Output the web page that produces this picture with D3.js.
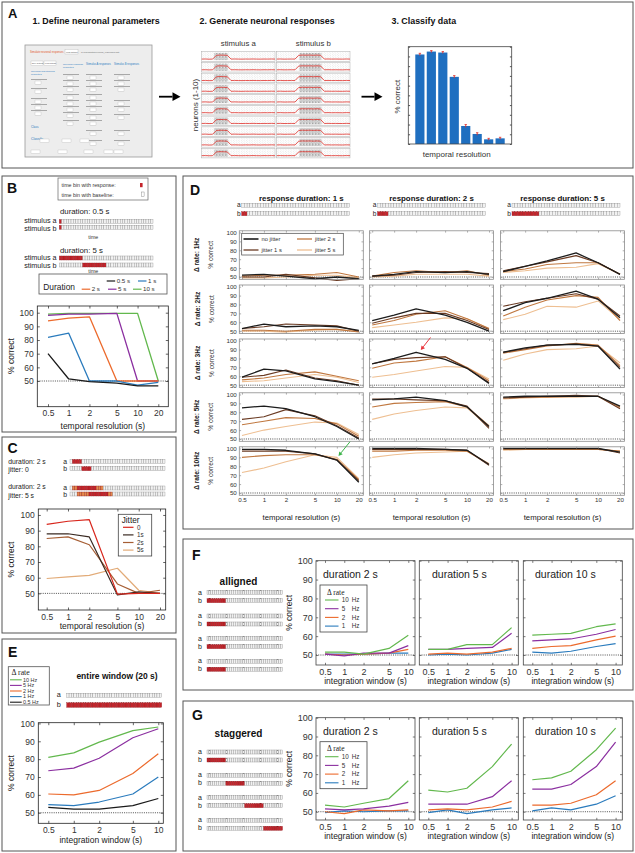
<!DOCTYPE html>
<html>
<head>
  <meta charset="utf-8">
  <title>Neuronal classification figure</title>
  <script src="https://cdn.jsdelivr.net/npm/d3@7"></script>
  <style>
    body { margin: 0; background: #fff; }
  </style>
</head>
<body>
<script>
// ---------- data ----------
const tempRes = [0.5, 1, 2, 5, 10, 20];
const intWin = [0.5, 1, 2, 5, 10];
const pctTicks = [50, 60, 70, 80, 90, 100];

// A: example classifier output
const barA = [92, 95, 94, 69, 18.5, 10.3, 4.8, 5.8];
const barErrA = [1.2, 1, 1, 1.3, 1.5, 1.3, 1, 1.1];
// A: firing-rate profile of the raster rows (0..1)
const rateA = [0.1, 0.12, 0.08, 0.1, 0.85, 0.9, 0.88, 0.85, 0.1, 0.12, 0.1, 0.09, 0.11, 0.1, 0.12, 0.1, 0.09, 0.11, 0.1, 0.12, 0.1];
const rateB = [0.1, 0.12, 0.09, 0.1, 0.11, 0.1, 0.85, 0.9, 0.88, 0.9, 0.86, 0.9, 0.85, 0.1, 0.12, 0.1, 0.11, 0.1, 0.09, 0.12, 0.1];

// B: duration
const durLabels = ['0.5 s', '1 s', '2 s', '5 s', '10 s'];
const durB05 = [70, 51.5, 49.5, 48.5, 46.5, 46.5];
const durB1 = [82, 85, 50, 50, 47, 49];
const durB2 = [94, 96, 97, 50, 50, 50];
const durB5 = [98, 99, 99, 99.5, 50, 50];
const durB10 = [99, 99.5, 99.5, 99.5, 99.5, 50];

// C: jitter
const jitLabelsC = ['0', '1s', '2s', '5s'];
const jitC0 = [94, 96, 97, 49.5, 50, 50];
const jitC1 = [88, 88, 86, 49, 51, 50];
const jitC2 = [85, 86, 81, 56, 50, 52];
const jitC5 = [59.5, 60.5, 61.5, 66, 52, 50];

// E: delta rate, entire window
const rateLabelsE = ['10 Hz', '5 Hz', '2 Hz', '1 Hz', '0.5 Hz'];
const rateE10 = [81, 83.5, 89.5, 96, 98];
const rateE5 = [73.5, 75, 80.5, 92, 97];
const rateE2 = [60.5, 60, 62.5, 72, 83];
const rateE1 = [54.5, 54, 56, 60.5, 70];
const rateE05 = [53, 52, 52, 54, 58];

// D: rows = delta rate, cols = response duration, each [no jitter, 1 s, 2 s, 5 s]
const dRowLabels = ['Δ rate: 1Hz', 'Δ rate: 2Hz', 'Δ rate: 3Hz', 'Δ rate: 5Hz', 'Δ rate: 10Hz'];
const dColLabels = ['response duration: 1 s', 'response duration: 2 s', 'response duration: 5 s'];
const dJitLabels = ['no jitter', 'jitter 1 s', 'jitter 2 s', 'jitter 5 s'];
const d1Hz = [
  [[52, 53, 51, 48, 50, 48], [50, 50, 53, 49, 46, 48], [51, 52, 52, 53, 55, 50], [49, 49, 50, 52, 52, 49]],
  [[51, 53, 56, 55, 56, 53], [51, 52, 55, 56, 55, 54], [51, 55, 57, 55, 57, 52], [50, 51, 53, 53, 53, 51]],
  [[56, 62, 68, 77, 66, 53], [57, 62, 67, 74, 66, 53], [56, 59, 64, 66, 66, 53], [55, 57, 60, 61, 65, 53]]
];
const d2Hz = [
  [[53, 58, 55, 56, 55, 51], [53, 55, 58, 57, 56, 50], [51, 51, 50, 52, 52, 49], [50, 50, 49, 51, 52, 50]],
  [[62, 68, 75, 68, 60, 50], [59, 65, 70, 70, 62, 52], [57, 62, 69, 73, 64, 53], [54, 57, 60, 65, 64, 53]],
  [[73, 82, 87, 95, 86, 65], [78, 83, 87, 92, 86, 67], [67, 77, 85, 90, 88, 62], [63, 69, 78, 77, 84, 63]]
];
const d3Hz = [
  [[59, 68, 66, 57, 54, 50], [59, 61, 67, 58, 55, 50], [56, 58, 62, 65, 60, 55], [54, 55, 58, 62, 59, 53]],
  [[74, 80, 87, 79, 69, 52], [74, 79, 81, 82, 69, 53], [69, 75, 77, 82, 70, 55], [59, 62, 66, 71, 70, 57]],
  [[87, 92, 95, 96, 94, 68], [87, 91, 95, 96, 94, 70], [86, 90, 94, 97, 95, 72], [78, 85, 90, 91, 94, 75]]
];
const d5Hz = [
  [[85, 87, 84, 75, 64, 50], [72, 75, 83, 76, 65, 51], [66, 70, 74, 73, 67, 53], [54, 60, 64, 69, 68, 55]],
  [[94, 95, 97, 93, 86, 64], [95, 95, 94, 93, 87, 62], [86, 90, 91, 92, 86, 65], [72, 78, 82, 86, 85, 63]],
  [[97, 98, 98, 98, 98, 87], [96, 97, 98, 99, 98, 84], [96, 97, 97, 98, 98, 86], [95, 96, 97, 97, 98, 85]]
];
const d10Hz = [
  [[99, 99, 98, 94, 87, 62], [97, 97, 97, 94, 87, 64], [90, 92, 93, 93, 88, 65], [73, 78, 85, 93, 90, 66]],
  [[100, 100, 100, 99, 98, 82], [99, 99, 99, 99, 98, 81], [97, 97, 98, 98, 97, 83], [90, 93, 95, 96, 97, 82]],
  [[100, 100, 100, 100, 100, 96], [100, 100, 100, 100, 100, 95], [99, 99, 99, 99, 99, 97], [98, 99, 99, 99, 99, 97]]
];
const dData = [d1Hz, d2Hz, d3Hz, d5Hz, d10Hz];

// F (alligned) and G (staggered): [10 Hz, 5 Hz, 2 Hz, 1 Hz]
const fgTitles = ['duration 2 s', 'duration 5 s', 'duration 10 s'];
const fgRateLabels = ['10', '5', '2', '1'];
const alligned = [
  [[51.5, 51.5, 50.5, 53.5, 60.5], [50.5, 49.5, 51, 51, 55], [50.5, 50, 50.5, 51, 53], [50.5, 50.5, 50.5, 51, 51]],
  [[53, 53, 55.5, 55.5, 64.5], [53, 53, 53.5, 54, 61.5], [50.5, 51, 50.5, 51.5, 53.5], [50, 50.5, 50, 51, 53]],
  [[60.5, 61, 61.5, 65, 66.5], [57.5, 58, 58.5, 61, 63.5], [53.5, 54.5, 55, 58, 60], [51.5, 51, 52, 54.5, 56]]
];
const staggered = [
  [[53.5, 52.5, 54.5, 57, 66.5], [51.5, 51, 51.5, 53, 55], [50, 49, 51, 50.5, 51], [49.5, 50.5, 50, 50.5, 50.5]],
  [[61.5, 60.5, 62.5, 74, 86], [54, 54, 54, 58, 66.5], [51, 51.5, 51, 52.5, 55.5], [49.5, 51, 49, 51, 52]],
  [[67, 68, 71.5, 83, 94.5], [62, 62, 64.5, 74, 87], [53.5, 53.5, 54.5, 59, 66.5], [50.5, 52, 51, 54, 58.5]]
];

// ---------- style ----------
const FONT = '"Liberation Sans", Arial, sans-serif';
const SERIF = '"Liberation Serif", "Times New Roman", serif';
const durColors = ['#1a1a1a', '#2a7bbd', '#ec6a2c', '#8b2fa0', '#62b84d'];
const jitColorsC = ['#d8261c', '#3a2a22', '#a65e34', '#e2ab78'];
const jitColorsD = ['#1c1c1c', '#6a3a22', '#c07840', '#eebf92'];
const rateColors = ['#62b84d', '#8b2fa0', '#ec6a2c', '#2a7bbd', '#1a1a1a'];
const RED = '#c4242b', ORANGE = '#e58a4c', CELL = '#f1f1f1';

const svg = d3.select('body').append('svg').attr('width', 635).attr('height', 853);
svg.append('rect').attr('width', 635).attr('height', 853).attr('fill', '#fff');

const defs = svg.append('defs');
const p1 = defs.append('pattern').attr('id', 'spk').attr('width', 2.6).attr('height', 2.2).attr('patternUnits', 'userSpaceOnUse');
p1.append('circle').attr('cx', 0.7).attr('cy', 0.6).attr('r', 0.35).attr('fill', '#bcbcbc');
p1.append('circle').attr('cx', 2).attr('cy', 1.7).attr('r', 0.35).attr('fill', '#c8c8c8');
const p2 = defs.append('pattern').attr('id', 'spkDense').attr('width', 1.5).attr('height', 1.4).attr('patternUnits', 'userSpaceOnUse');
p2.append('circle').attr('cx', 0.5).attr('cy', 0.5).attr('r', 0.4).attr('fill', '#444');
p2.append('circle').attr('cx', 1.2).attr('cy', 1.1).attr('r', 0.3).attr('fill', '#777');

// ---------- helpers ----------
function txt(x, y, s, fs, o = {}) {
  const t = svg.append('text').attr('x', x).attr('y', y).text(s)
    .attr('font-size', fs).attr('font-family', o.ff || FONT).attr('fill', o.fill || '#111');
  if (o.anchor) t.attr('text-anchor', o.anchor);
  if (o.bold) t.attr('font-weight', 'bold');
  if (o.rot) t.attr('transform', `rotate(${o.rot},${x},${y})`);
  return t;
}
function frame(x, y, w, h, col, sw) {
  svg.append('rect').attr('x', x).attr('y', y).attr('width', w).attr('height', h)
    .attr('fill', 'none').attr('stroke', col || '#555').attr('stroke-width', sw || 1);
}
function hline(x1, x2, y, col, sw) {
  svg.append('line').attr('x1', x1).attr('x2', x2).attr('y1', y).attr('y2', y)
    .attr('stroke', col).attr('stroke-width', sw || 1.2);
}
// strip of time bins; spans = [[from, to, colour], ...]
function strip(x, y, w, h, n, spans) {
  const b = d3.scaleBand().domain(d3.range(n)).range([x, x + w]);
  const fill = i => {
    const s = spans.find(s => i >= s[0] && i < s[1]);
    return s ? s[2] : CELL;
  };
  svg.append('g').selectAll('rect').data(d3.range(n)).join('rect')
    .attr('x', i => b(i)).attr('y', y).attr('width', b.bandwidth()).attr('height', h)
    .attr('fill', fill)
    .attr('stroke', i => fill(i) === CELL ? '#8a8a8a' : '#8e1b1f')
    .attr('stroke-width', 0.35);
}
function arrow(x1, y1, x2, y2, col, sw, head) {
  const a = Math.atan2(y2 - y1, x2 - x1);
  const bx = x2 - head * Math.cos(a), by = y2 - head * Math.sin(a);
  svg.append('line').attr('x1', x1).attr('y1', y1).attr('x2', bx).attr('y2', by)
    .attr('stroke', col).attr('stroke-width', sw);
  const hw = head * 0.55;
  svg.append('path').attr('fill', col)
    .attr('d', `M${x2},${y2}L${bx + hw * Math.sin(a)},${by - hw * Math.cos(a)}L${bx - hw * Math.sin(a)},${by + hw * Math.cos(a)}Z`);
}
function chart(o) {
  const g = svg.append('g').attr('transform', `translate(${o.x},${o.y})`);
  const x = d3.scaleLog().domain([o.xs[0], o.xs[o.xs.length - 1]]).range([o.pl, o.w - o.pr]);
  const y = d3.scaleLinear().domain(o.yd).range([o.h, 0]);
  g.append('line').attr('x1', 0).attr('x2', o.w).attr('y1', y(50)).attr('y2', y(50))
    .attr('stroke', '#222').attr('stroke-width', 0.8).attr('stroke-dasharray', '1,1.2');
  const line = d3.line().x((d, i) => x(o.xs[i])).y(d => y(d));
  o.series.forEach(s => g.append('path').attr('d', line(s.v)).attr('fill', 'none')
    .attr('stroke', s.c).attr('stroke-width', s.w || 1.2).attr('stroke-linejoin', 'round'));
  g.append('rect').attr('width', o.w).attr('height', o.h).attr('fill', 'none')
    .attr('stroke', o.frame).attr('stroke-width', 0.8);
  const t = o.tick || 2.5;
  [
    [d3.axisBottom(x).tickValues(o.xs), `translate(0,${o.h})`, o.xLab],
    [d3.axisTop(x).tickValues(o.xs), 'translate(0,0)', false],
    [d3.axisLeft(y).tickValues(pctTicks), 'translate(0,0)', o.yLab],
    [d3.axisRight(y).tickValues(pctTicks), `translate(${o.w},0)`, false]
  ].forEach(([ax, tr, lab]) => {
    const a = g.append('g').attr('transform', tr)
      .call(ax.tickSize(-t).tickPadding(o.pad || 3).tickFormat(lab ? (d => d) : ''));
    a.select('.domain').remove();
    a.selectAll('line').attr('stroke', o.frame).attr('stroke-width', 0.7);
    a.selectAll('text').attr('font-size', o.fs).attr('fill', '#333').attr('font-family', FONT);
  });
  return { x, y };
}

// ---------- panel A ----------
frame(2, 2, 631, 166);
txt(8, 18, 'A', 13, { bold: true });
txt(32.5, 23.5, '1. Define neuronal parameters', 8.9, { bold: true });
txt(199.5, 23.5, '2. Generate neuronal responses', 8.9, { bold: true });
txt(391.5, 23.5, '3. Classify data', 8.9, { bold: true });

// GUI screenshot mock-up
svg.append('rect').attr('x', 25).attr('y', 45).attr('width', 127).attr('height', 112)
  .attr('fill', '#ededed').attr('stroke', '#9a9a9a').attr('stroke-width', 0.8);
txt(30, 52.5, 'Simulate neuronal responses', 2.6, { fill: '#e2552c' });
svg.append('rect').attr('x', 65).attr('y', 49.5).attr('width', 13).attr('height', 4.5).attr('fill', '#fff').attr('stroke', '#aaa').attr('stroke-width', 0.3);
txt(66, 52.8, 'Load dataset', 2, { fill: '#555' });
txt(81, 52.5, 'C:\\Users\\data\\neuronal_responses.mat', 2.2, { fill: '#666' });
[[31, 'Save settings'], [44, 'Load settings']].forEach(([bx, s]) => {
  svg.append('rect').attr('x', bx).attr('y', 61).attr('width', 12).attr('height', 4.5).attr('fill', '#fff').attr('stroke', '#aaa').attr('stroke-width', 0.3);
  txt(bx + 0.8, 64.2, s, 1.9, { fill: '#555' });
});
txt(63, 64.5, 'Neuronal response', 2.4, { fill: '#2a7ac0' });
txt(63, 67.5, 'properties', 2.4, { fill: '#2a7ac0' });
txt(86, 65, 'Stimulus A responses', 2.6, { fill: '#2a7ac0' });
txt(114, 65, 'Stimulus B responses', 2.6, { fill: '#2a7ac0' });
txt(31, 72, 'Neuronal and stimulus', 2.4, { fill: '#2a7ac0' });
txt(31, 75, 'properties', 2.4, { fill: '#2a7ac0' });
txt(31, 127.5, 'Class', 3, { fill: '#2a7ac0' });
txt(31, 140, 'Classify', 3.4, { fill: '#2a7ac0' });
[[31, [79, 88, 98, 104, 110]], [63, [74, 80, 86, 94, 100, 106, 112, 120]], [86, [74, 80, 86, 94, 100, 106, 114, 120, 130, 140]], [114, [74, 80, 86, 100, 106, 114, 130, 140]]].forEach(([cx, ys]) => {
  ys.forEach(yy => {
    svg.append('rect').attr('x', cx).attr('y', yy).attr('width', 16).attr('height', 1).attr('fill', '#a8a8a8');
    svg.append('rect').attr('x', cx + 4).attr('y', yy + 2).attr('width', 6).attr('height', 3.2).attr('fill', '#fff').attr('stroke', '#b0b0b0').attr('stroke-width', 0.3);
  });
});
[[40, 139], [62, 139], [80, 139], [31, 150], [58, 150], [84, 150], [104, 150], [114, 150]].forEach(([bx, by]) => {
  svg.append('rect').attr('x', bx).attr('y', by).attr('width', 9).attr('height', 3.4).attr('fill', '#fff').attr('stroke', '#b0b0b0').attr('stroke-width', 0.3);
});

arrow(159, 96.7, 180.5, 96.7, '#000', 1.8, 8);
arrow(361.5, 96.7, 382.5, 96.7, '#000', 1.8, 8);

// raster panels
txt(238.3, 46, 'stimulus a', 7.8, { anchor: 'middle', fill: '#333' });
txt(313.3, 46, 'stimulus b', 7.8, { anchor: 'middle', fill: '#333' });
txt(197.5, 105, 'neurons (1-10)', 8, { anchor: 'middle', rot: -90, fill: '#333' });
const rowY = d3.scaleLinear().domain([0, 9]).range([51.7, 148.3]);
[[201.7, rateA, 0.17, 0.36], [276.7, rateB, 0.31, 0.61]].forEach(([x0, rate, on, off]) => {
  const rx = d3.scaleLinear().domain([0, rate.length - 1]).range([x0, x0 + 73.3]);
  d3.range(10).forEach(i => {
    const y0 = rowY(i), h = 9.6;
    svg.append('rect').attr('x', x0).attr('y', y0).attr('width', 73.3).attr('height', h)
      .attr('fill', '#fff').attr('stroke', '#aaa').attr('stroke-width', 0.5);
    svg.append('rect').attr('x', x0 + 0.5).attr('y', y0 + 0.5).attr('width', 72.3).attr('height', h - 1)
      .attr('fill', 'url(#spk)');
    svg.append('rect').attr('x', x0 + on * 73.3).attr('y', y0 + 1.2).attr('width', (off - on) * 73.3).attr('height', h - 2.4)
      .attr('fill', 'url(#spkDense)');
    const ry = d3.scaleLinear().domain([0, 1]).range([y0 + h * 0.82, y0 + h * 0.3]);
    svg.append('path').attr('d', d3.line().x((d, k) => rx(k)).y(d => ry(d))(rate))
      .attr('fill', 'none').attr('stroke', '#e0302a').attr('stroke-width', 0.8);
  });
});

// classifier bar chart
{
  const bx = d3.scaleBand().domain(d3.range(barA.length)).range([413, 507]).padding(0.2);
  const by = d3.scaleLinear().domain([0, 100]).range([144, 46.7]);
  svg.append('g').selectAll('rect').data(barA).join('rect')
    .attr('x', (d, i) => bx(i)).attr('y', d => by(d)).attr('width', bx.bandwidth())
    .attr('height', d => 144 - by(d)).attr('fill', '#1f6fc0');
  svg.append('g').selectAll('line').data(barA).join('line')
    .attr('x1', (d, i) => bx(i) + bx.bandwidth() / 2).attr('x2', (d, i) => bx(i) + bx.bandwidth() / 2)
    .attr('y1', (d, i) => by(d + barErrA[i])).attr('y2', (d, i) => by(d - barErrA[i]))
    .attr('stroke', '#e0302a').attr('stroke-width', 0.9);
  svg.append('g').selectAll('line').data(barA).join('line')
    .attr('x1', (d, i) => bx(i) + bx.bandwidth() / 2 - 1.2).attr('x2', (d, i) => bx(i) + bx.bandwidth() / 2 + 1.2)
    .attr('y1', (d, i) => by(d + barErrA[i])).attr('y2', (d, i) => by(d + barErrA[i]))
    .attr('stroke', '#e0302a').attr('stroke-width', 0.8);
  const ax = svg.append('g').attr('transform', 'translate(408.3,0)')
    .call(d3.axisRight(by).ticks(10).tickSize(1.8).tickFormat(''));
  ax.select('.domain').remove(); ax.selectAll('line').attr('stroke', '#555');
  const ax2 = svg.append('g').attr('transform', 'translate(511.7,0)')
    .call(d3.axisLeft(by).ticks(10).tickSize(1.8).tickFormat(''));
  ax2.select('.domain').remove(); ax2.selectAll('line').attr('stroke', '#555');
  frame(408.3, 46.7, 103.4, 97.3, '#444', 0.8);
  txt(400, 96.7, '% correct', 8, { anchor: 'middle', rot: -90, fill: '#333' });
  txt(456.7, 157, 'temporal resolution', 8, { anchor: 'middle', fill: '#333' });
}

// ---------- panel B ----------
frame(2, 176, 174, 256);
txt(7, 193, 'B', 14, { bold: true });
frame(58, 178, 90, 22, '#666', 0.7);
txt(61.5, 187, 'time bin with response:', 5.3, { fill: '#333' });
txt(61.5, 196.5, 'time bin with baseline:', 5.3, { fill: '#333' });
svg.append('rect').attr('x', 140).attr('y', 183).attr('width', 2.6).attr('height', 4.2).attr('fill', RED);
svg.append('rect').attr('x', 141.5).attr('y', 192).attr('width', 2.6).attr('height', 4.2).attr('fill', '#fff').attr('stroke', '#777').attr('stroke-width', 0.4);

txt(60, 214, 'duration: 0.5 s', 7.8, { fill: '#222' });
txt(56.5, 223.2, 'stimulus a', 7.2, { anchor: 'end', fill: '#222' });
txt(56.5, 230.5, 'stimulus b', 7.2, { anchor: 'end', fill: '#222' });
strip(59.3, 219.5, 93.7, 4, 40, [[0, 1, RED]]);
strip(59.3, 225.3, 93.7, 4, 40, [[0, 1, RED]]);
txt(93.3, 238.5, 'time', 5.3, { anchor: 'middle', fill: '#333' });

txt(60, 252.5, 'duration: 5 s', 7.8, { fill: '#222' });
txt(56.5, 260, 'stimulus a', 7.2, { anchor: 'end', fill: '#222' });
txt(56.5, 267.5, 'stimulus b', 7.2, { anchor: 'end', fill: '#222' });
strip(59.3, 256, 93.7, 4, 40, [[0, 10, RED]]);
txt(93.3, 272.5, 'time', 5.3, { anchor: 'middle', fill: '#333' });
strip(59.3, 263, 93.7, 4, 40, [[10, 20, RED]]);

frame(39, 274, 128, 20, '#555', 0.8);
txt(43.3, 290, 'Duration', 8.4, { fill: '#222' });
[[106.7, 282.8, 0], [138, 282.8, 1], [81.7, 291, 2], [108, 291, 3], [133, 291, 4]].forEach(([lx, ly, k]) => {
  hline(lx, lx + 8.5, ly - 1.8, durColors[k], 1.2);
  txt(lx + 10, ly, durLabels[k], 6.2, { fill: '#333' });
});

chart({
  x: 37.3, y: 306, w: 131, h: 100.7, xs: tempRes, yd: [31.2, 104.9], pl: 10.7, pr: 10, pad: 3.5,
  frame: '#222', fs: 8.5, xLab: true, yLab: true,
  series: [durB10, durB5, durB2, durB1, durB05].map((v, i) => ({ v, c: durColors[4 - i], w: 1.3 }))
});
txt(37.3 + 65.5, 429, 'temporal resolution (s)', 8.5, { anchor: 'middle', fill: '#222' });
txt(14, 356, '% correct', 8.5, { anchor: 'middle', rot: -90, fill: '#222' });

// ---------- panel C ----------
frame(2, 437, 174, 196);
txt(7.5, 453, 'C', 14, { bold: true });
txt(8.3, 464.3, 'duration: 2 s', 6.8, { fill: '#222' });
txt(8.3, 471.8, 'jitter: 0', 6.8, { fill: '#222' });
txt(8.3, 489.3, 'duration: 2 s', 6.8, { fill: '#222' });
txt(8.3, 498, 'jitter: 5 s', 6.8, { fill: '#222' });
txt(63.3, 463.8, 'a', 6.8, { fill: '#222' });
txt(63.3, 471, 'b', 6.8, { fill: '#222' });
txt(63.3, 490, 'a', 6.8, { fill: '#222' });
txt(63.3, 497.2, 'b', 6.8, { fill: '#222' });
strip(70, 459.5, 95, 4, 40, [[1, 5, RED]]);
strip(70, 466.7, 95, 4, 40, [[5, 9, RED]]);
strip(70, 486, 95, 4, 40, [[1, 3, ORANGE], [3, 11, RED], [11, 14, ORANGE]]);
strip(70, 492, 95, 4, 40, [[3, 8, ORANGE], [8, 16, RED], [16, 18, ORANGE]]);

chart({
  x: 38.3, y: 509, w: 127.4, h: 101, xs: tempRes, yd: [39.4, 103.8], pl: 8.4, pr: 5.7, pad: 3.5,
  frame: '#222', fs: 8.5, xLab: true, yLab: true,
  series: [jitC5, jitC2, jitC1, jitC0].map((v, i) => ({ v, c: jitColorsC[3 - i], w: 1.2 }))
});
txt(102, 628.5, 'temporal resolution (s)', 8.5, { anchor: 'middle', fill: '#222' });
txt(14, 559.5, '% correct', 8.5, { anchor: 'middle', rot: -90, fill: '#222' });
svg.append('rect').attr('x', 118.3).attr('y', 514.3).attr('width', 33.4).attr('height', 41.7)
  .attr('fill', '#fff').attr('stroke', '#444').attr('stroke-width', 0.8);
txt(121.7, 523, 'Jitter', 8.2, { fill: '#222' });
jitLabelsC.forEach((s, k) => {
  const ly = 527.3 + k * 7.6;
  hline(123, 133.5, ly, jitColorsC[k], 1.2);
  txt(137, ly + 2.2, s, 6.3, { fill: '#333' });
});

// ---------- panel E ----------
frame(2, 639, 174, 212);
txt(8, 657, 'E', 14, { bold: true });
frame(8.3, 666.7, 41, 38.3, '#555', 0.8);
txt(11.5, 675.3, 'Δ rate', 7.8, { ff: SERIF, fill: '#222' });
rateLabelsE.forEach((s, k) => {
  const ly = 679.8 + k * 5.6;
  hline(10, 21.7, ly, rateColors[k], 1.1);
  txt(23, ly + 1.8, s, 5.4, { fill: '#333' });
});
txt(117, 679, 'entire window (20 s)', 8.5, { bold: true, anchor: 'middle' });
txt(56.7, 697.3, 'a', 7.3, { fill: '#222' });
txt(56.7, 707, 'b', 7.3, { fill: '#222' });
strip(66.7, 693.3, 95, 4, 40, []);
strip(66.7, 702.8, 95, 4.5, 40, [[0, 40, RED]]);
chart({
  x: 38.3, y: 722.7, w: 125, h: 100.6, xs: intWin, yd: [44.1, 100.4], pl: 10, pr: 5, pad: 3.5,
  frame: '#222', fs: 8.5, xLab: true, yLab: true,
  series: [rateE05, rateE1, rateE2, rateE5, rateE10].map((v, i) => ({ v, c: rateColors[4 - i], w: 1.2 }))
});
txt(100.8, 843, 'integration window (s)', 8.5, { anchor: 'middle', fill: '#222' });
txt(14, 773, '% correct', 8.5, { anchor: 'middle', rot: -90, fill: '#222' });

// ---------- panel D ----------
frame(183, 176, 450, 353);
txt(190, 195, 'D', 14, { bold: true });
const dColX = [239.3, 369.5, 500.5];
const dRowY = [230.8, 285, 339, 392.8, 446.8];
const dStripX = [241.7, 377.5, 512];
const dStripRed = [2, 4, 10];
dColLabels.forEach((s, c) => {
  txt(dColX[c] + 62, 201, s, 7.9, { bold: true, anchor: 'middle' });
  txt(dStripX[c] - 1, 207.3, 'a', 6.6, { anchor: 'end', fill: '#222' });
  txt(dStripX[c] - 1, 215.8, 'b', 6.6, { anchor: 'end', fill: '#222' });
  strip(dStripX[c], 203.2, 108, 4, 40, []);
  strip(dStripX[c], 211.7, 108, 4, 40, [[0, dStripRed[c], RED]]);
});
dRowLabels.forEach((s, r) => {
  const cy = dRowY[r] + 24;
  txt(199.5, cy, s, 6.6, { bold: true, anchor: 'middle', rot: -90, fill: '#222' });
  txt(213.5, cy, '% correct', 6.6, { anchor: 'middle', rot: -90, fill: '#333' });
  dColLabels.forEach((_, c) => {
    const cell = dData[r][c];
    chart({
      x: dColX[c], y: dRowY[r], w: 124, h: 48.5, xs: tempRes, yd: [47.4, 101.9], pl: 2.7, pr: 4.5,
      frame: '#8c8c8c', fs: 6.2, tick: 1.8, pad: 2.5, xLab: r === 4, yLab: c === 0,
      series: [3, 2, 1, 0].map(k => ({ v: cell[k], c: jitColorsD[k], w: k === 0 ? 1.3 : 1.1 }))
    });
  });
});
dColX.forEach(cx => txt(cx + 62, 520, 'temporal resolution (s)', 7.8, { anchor: 'middle', fill: '#222' }));
// D legend
svg.append('rect').attr('x', 241.7).attr('y', 233.3).attr('width', 101.6).attr('height', 21.7)
  .attr('fill', '#fff').attr('stroke', '#444').attr('stroke-width', 0.7);
[[243.5, 239, 0], [243.5, 250, 1], [297, 239, 2], [297, 250, 3]].forEach(([lx, ly, k]) => {
  hline(lx, lx + 15, ly, jitColorsD[k], k === 0 ? 1.6 : 1.3);
  txt(lx + 18, ly + 2, dJitLabels[k], 5.8, { fill: '#333' });
});
arrow(430.5, 337.5, 420.8, 350, '#e8343c', 1, 4);
arrow(350, 441.7, 338.5, 456, '#3cb44a', 1, 4);

// ---------- panels F and G ----------
function fgPanel(top, letter, label, data, pairs, o) {
  frame(183, top, 450, o.h);
  txt(192, top + o.letterY, letter, 14, { bold: true });
  txt(238.5, top + o.labY, label, 10, { bold: true, anchor: 'middle' });
  pairs.forEach(([ay, red]) => {
    txt(200, ay + 3.8, 'a', 7, { anchor: 'middle', fill: '#222' });
    txt(200, ay + 11.8, 'b', 7, { anchor: 'middle', fill: '#222' });
    strip(207, ay, 75.5, 4, 40, []);
    strip(207, ay + 8, 75.5, 4, 40, [red]);
  });
  const px = [316, 419.3, 523.3];
  px.forEach((x0, c) => {
    chart({
      x: x0, y: o.py, w: 99, h: o.ph, xs: intWin, yd: o.yd, pl: 9, pr: 6.7, pad: 3.2,
      frame: '#444', fs: 9, tick: 2.2, xLab: true, yLab: c === 0,
      series: [3, 2, 1, 0].map(k => ({ v: data[c][k], c: rateColors[k], w: 1.2 }))
    });
    txt(x0 + 49.5, o.py + o.ph + 18.5, 'integration window (s)', 8.5, { anchor: 'middle', fill: '#222' });
    txt(x0 + (c === 0 ? 7 : c === 1 ? 12.7 : 11.7), o.py + 17, fgTitles[c], 10.5, { fill: '#222' });
  });
  txt(292, o.py + o.ph / 2, '% correct', 8.5, { anchor: 'middle', rot: -90, fill: '#222' });
  const ly0 = o.legY;
  svg.append('rect').attr('x', 320).attr('y', ly0).attr('width', 47).attr('height', 47)
    .attr('fill', '#fff').attr('stroke', '#444').attr('stroke-width', 0.8);
  txt(327, ly0 + 9.5, 'Δ rate', 7.5, { ff: SERIF, fill: '#222' });
  fgRateLabels.forEach((s, k) => {
    const yy = ly0 + 15 + k * 8.7;
    hline(325, 338.5, yy, rateColors[k], 1.1);
    txt(341.7, yy + 2.2, s, 6.3, { fill: '#333' });
    txt(351.7, yy + 2.2, 'Hz', 6.3, { fill: '#333' });
  });
}
fgPanel(539, 'F', 'alligned', alligned,
  [[590.7, [0, 10, RED]], [614, [0, 10, RED]], [636.7, [0, 10, RED]], [659.3, [0, 10, RED]]],
  { h: 151, letterY: 21, labY: 46, py: 560.7, ph: 104.3, yd: [44.7, 100], legY: 585 });
fgPanel(701, 'G', 'staggered', staggered,
  [[750, [0, 10, RED]], [773.3, [10, 20, RED]], [795.7, [20, 30, RED]], [818.3, [30, 40, RED]]],
  { h: 150, letterY: 19, labY: 36, py: 717.7, ph: 102.3, yd: [45.6, 100], legY: 741.7 });
</script>
</body>
</html>
